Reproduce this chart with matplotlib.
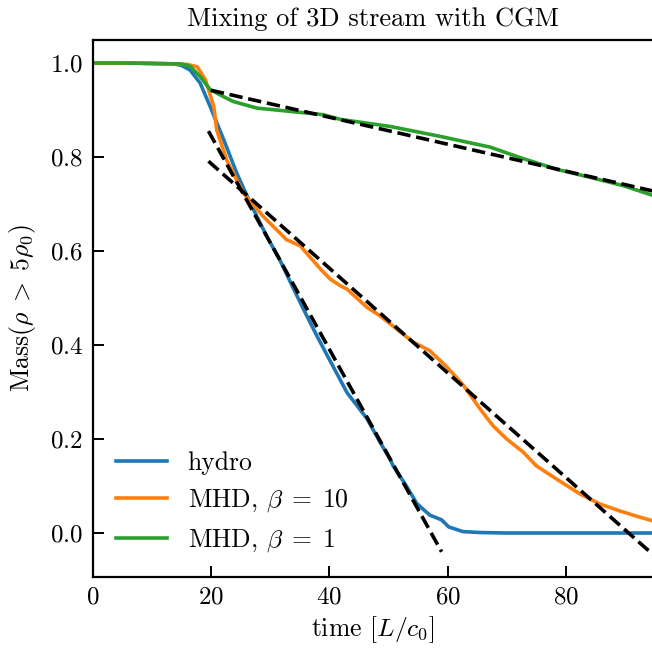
import matplotlib
matplotlib.use("Agg")
import matplotlib.pyplot as plt

plt.rcParams["font.family"] = ["cmr10", "DejaVu Serif"]
plt.rcParams["mathtext.fontset"] = "cm"
plt.rcParams["axes.formatter.use_mathtext"] = True
plt.rcParams["axes.unicode_minus"] = False

# Dense-gas mass fraction over time for the three runs
hydro_t = [0, 5, 10, 13.7, 15, 16.5, 18.2, 19.9, 22.2, 24.4, 26.7, 29.5, 31.5,
           33.4, 35.5, 37.9, 40, 43.0, 46.4, 48.6, 50.3, 50.8, 53.1, 54.8,
           57.0, 59.0, 60.2, 62.6, 65.5, 70, 80, 96]
hydro_m = [1.0, 1.0, 0.999, 0.998, 0.995, 0.985, 0.957, 0.907, 0.836, 0.765,
           0.701, 0.63, 0.585, 0.535, 0.48, 0.42, 0.37, 0.299, 0.243, 0.193,
           0.157, 0.143, 0.099, 0.063, 0.038, 0.028, 0.013, 0.003, 0.001, 0.0,
           0.0, 0.0]

mhd10_t = [0, 5, 10, 14, 16, 17.7, 19.1, 20.5, 21.0, 22.7, 25.5, 28.9, 32.8,
           35.1, 38.5, 40.2, 41.9, 43.0, 46.4, 48.6, 51.4, 54.2, 57.0, 59.9,
           62.7, 65.5, 67.7, 70.0, 72.8, 75.0, 78.4, 82.4, 85.7, 89.1, 91.9,
           96]
mhd10_m = [1.0, 1.0, 0.999, 0.998, 0.997, 0.992, 0.964, 0.907, 0.857, 0.793,
           0.723, 0.673, 0.624, 0.611, 0.562, 0.540, 0.526, 0.519, 0.480,
           0.462, 0.434, 0.406, 0.388, 0.353, 0.314, 0.264, 0.228, 0.2, 0.172,
           0.143, 0.115, 0.083, 0.062, 0.047, 0.036, 0.021]

mhd1_t = [0, 5, 10, 15, 16.5, 18.2, 19.9, 22.2, 23.8, 27.8, 33.4, 39.0, 41.9,
          50.3, 58.7, 67.2, 72.2, 78.4, 84.0, 89.7, 96]
mhd1_m = [1.0, 1.0, 0.999, 0.998, 0.993, 0.971, 0.943, 0.928, 0.918, 0.904,
          0.897, 0.890, 0.880, 0.865, 0.844, 0.821, 0.799, 0.774, 0.757, 0.739,
          0.713]

# Linear fits to the mixing phase
fit_hydro_t = [19.6, 59.0]
fit_hydro_m = [0.855, -0.040]
fit_mhd10_t = [19.6, 96]
fit_mhd10_m = [0.791, -0.060]
fit_mhd1_t = [20, 96]
fit_mhd1_m = [0.942, 0.724]

labels = ["hydro", r"MHD, $\beta\;=\;10$", r"MHD, $\beta\;=\;1$"]
colors = ["#1f77b4", "#ff7f0e", "#2ca02c"]

W, H = 652, 648
fig = plt.figure(figsize=(W / 100, H / 100), dpi=100)
left, right, top, bottom = 92.5, 654, 40, 577
ax = fig.add_axes([left / W, 1 - bottom / H, (right - left) / W, (bottom - top) / H])

lw = 2.6
for t, m, lab, c in zip([hydro_t, mhd10_t, mhd1_t], [hydro_m, mhd10_m, mhd1_m],
                        labels, colors):
    ax.plot(t, m, color=c, lw=lw, label=lab)

for t, m in [(fit_mhd1_t, fit_mhd1_m), (fit_hydro_t, fit_hydro_m),
             (fit_mhd10_t, fit_mhd10_m)]:
    ax.plot(t, m, color="black", lw=lw, ls="--")

ax.set_xlim(0, (right - left) / 5.917)
ax.set_ylim(-0.0936, 1.0489)
ax.set_xticks([0, 20, 40, 60, 80])
ax.set_yticks([0.0, 0.2, 0.4, 0.6, 0.8, 1.0])

ax.tick_params(direction="in", length=8, width=1.4, labelsize=18, pad=7)
for s in ax.spines.values():
    s.set_linewidth(1.6)

ax.set_xlabel(r"time $[L/c_0]$", fontsize=18.5, labelpad=4)
ax.set_ylabel(r"Mass$(\rho\;>\;5\rho_0)$", fontsize=18.5, labelpad=8)
ax.set_title("Mixing of 3D stream with CGM", fontsize=19, pad=10)

ax.legend(loc="lower left", frameon=False, fontsize=18.5)

fig.savefig("out.png", dpi=100)
